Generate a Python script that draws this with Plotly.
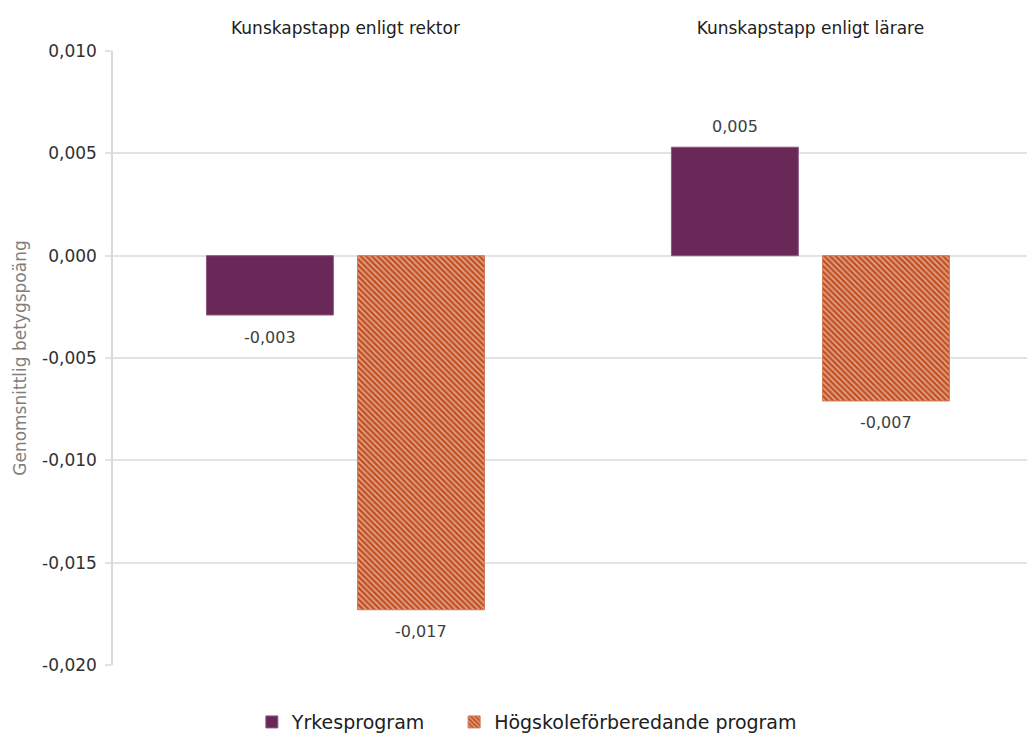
import plotly.graph_objects as go

categories = ["Kunskapstapp enligt rektor", "Kunskapstapp enligt lärare"]
yrke_values = [-0.0029, 0.0053]
hogsk_values = [-0.0173, -0.0071]
series_names = ["Yrkesprogram", "Högskoleförberedande program"]
y_tick_values = [-0.020, -0.015, -0.010, -0.005, 0.000, 0.005, 0.010]
y_tick_labels = ["-0,020", "-0,015", "-0,010", "-0,005", "0,000", "0,005", "0,010"]

FONT = "DejaVu Sans"
TXT = "#404040"
BARGAP = 0.35
BARGROUPGAP = 0.16

fig = go.Figure()
fig.add_trace(go.Bar(
    x=categories, y=yrke_values, name=series_names[0], legend="legend",
    showlegend=True,
    marker=dict(color="#6a2858", line=dict(color="#8a5a7e", width=1)),
))
fig.add_trace(go.Bar(
    x=categories, y=hogsk_values, name=series_names[1], legend="legend2",
    showlegend=True,
    marker=dict(color="#c24f20", line=dict(color="#d27a55", width=1),
                pattern=dict(shape="\\", bgcolor="#c24f20", fgcolor="#ffffff",
                             size=4, solidity=0.4, fillmode="overlay")),
))

# value labels placed on the category axis, offset to each bar of the group
offset = (1 - BARGAP) / 4
for s, vals in enumerate([yrke_values, hogsk_values]):
    dx = -offset if s == 0 else offset
    for i, v in enumerate(vals):
        fig.add_annotation(
            x=i + dx, y=v, xref="x", yref="y",
            text=f"{v:.3f}".replace(".", ","),
            showarrow=False, yanchor="middle",
            yshift=21 if v >= 0 else -22,
            font=dict(family=FONT, size=16, color=TXT),
        )

legend_style = dict(orientation="h", xanchor="left", y=-0.062, yanchor="top",
                    font=dict(family=FONT, size=19, color="#202020"),
                    itemwidth=30, bgcolor="rgba(0,0,0,0)", visible=True)

fig.update_layout(
    width=1027, height=725,
    showlegend=True,
    paper_bgcolor="white", plot_bgcolor="white",
    separators=",.",
    barmode="group", bargap=BARGAP, bargroupgap=BARGROUPGAP,
    margin=dict(l=105, r=0, t=43, b=68, autoexpand=False),
    font=dict(family=FONT, color=TXT, size=15),
    xaxis=dict(side="top", range=[-0.5, 1.483], showline=False, showgrid=False,
               ticks="", automargin=False, ticklabelstandoff=13,
               tickfont=dict(family=FONT, size=17, color="#202020")),
    yaxis=dict(range=[-0.020, 0.010], tickvals=y_tick_values, ticktext=y_tick_labels,
               automargin=False, ticklabelstandoff=5,
               showgrid=True, gridcolor="#e3e3e3", gridwidth=1.5,
               showline=True, linecolor="#d9d9d9", linewidth=1.5,
               ticks="outside", ticklen=6, tickcolor="#e3e3e3", tickwidth=1.5,
               zeroline=False,
               tickfont=dict(family=FONT, size=17, color="#303030"),
               title=dict(text="Genomsnittlig betygspoäng",
                          font=dict(family=FONT, size=17, color="#7f7f7f"),
                          standoff=11)),
    legend=dict(x=0.1506, **legend_style),
    legend2=dict(x=0.370, **legend_style),
)

fig.write_html("out.html")
